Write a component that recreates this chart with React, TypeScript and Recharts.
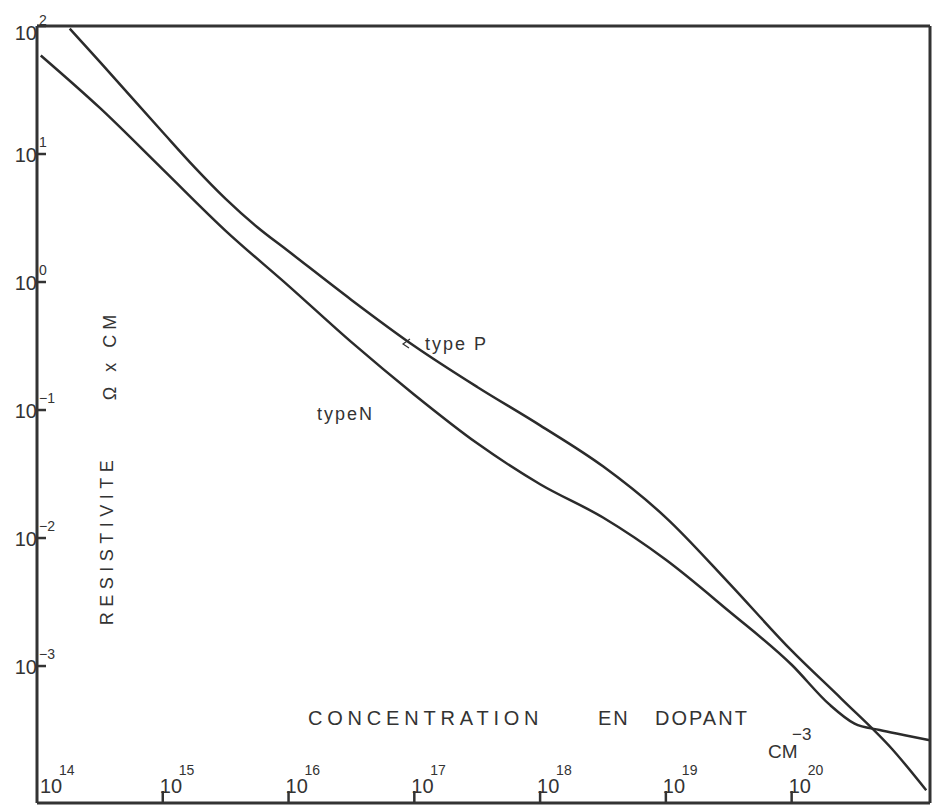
import { LineChart, Line, XAxis, YAxis } from 'recharts';

// exponents of the axis ticks (log10)
const xTicks = [14, 15, 16, 17, 18, 19, 20];
const yTicks = [2, 1, 0, -1, -2, -3];

// log10 of dopant concentration (cm^-3) / log10 of resistivity (ohm x cm)
const typePConc = [14.26, 14.5, 15.0, 15.25, 15.5, 15.75, 16.0, 16.5, 17.0, 17.5, 18.0, 18.5, 19.0, 19.5, 20.0, 20.4, 20.8, 21.07];
const typePRho = [1.98, 1.72, 1.17, 0.9, 0.65, 0.43, 0.24, -0.14, -0.5, -0.82, -1.12, -1.44, -1.84, -2.35, -2.88, -3.26, -3.65, -3.97];

const typeNConc = [14.03, 14.5, 15.0, 15.5, 16.0, 16.5, 17.0, 17.5, 18.0, 18.5, 19.0, 19.5, 20.0, 20.3, 20.5, 20.7, 20.9, 21.1];
const typeNRho = [1.77, 1.36, 0.88, 0.4, -0.03, -0.47, -0.88, -1.26, -1.58, -1.84, -2.17, -2.57, -2.99, -3.3, -3.45, -3.5, -3.54, -3.58];

const typeP = typePConc.map((c, i) => ({ c, r: typePRho[i] }));
const typeN = typeNConc.map((c, i) => ({ c, r: typeNRho[i] }));

const ink = '#333';
const font = '"Liberation Sans", Arial, sans-serif';

const sup = (v: number) => (v < 0 ? '\u2212' + Math.abs(v) : String(v));

const XTick = (props: any) => {
  const { x, y, payload } = props;
  const v = payload.value;
  const dx = v === 14 ? 3 : -3;
  return (
    <g>
      {v !== 14 && <line x1={x} y1={y} x2={x} y2={y - 12} stroke={ink} strokeWidth={2.5} />}
      <text x={x + dx} y={y - 10} fontSize={20} fill={ink} fontFamily={font}>10</text>
      <text x={x + dx + 19} y={y - 28} fontSize={14} fill={ink} fontFamily={font}>{sup(v)}</text>
    </g>
  );
};

const YTick = (props: any) => {
  const { x, y, payload } = props;
  const v = payload.value;
  const top = v === 2 ? 6 : 0;
  return (
    <g>
      <line x1={x} y1={y} x2={x + 9} y2={y} stroke={ink} strokeWidth={2.5} />
      <text x={x} y={y + 8 + top} fontSize={20} fill={ink} fontFamily={font} textAnchor="end">10</text>
      <text x={x + 2} y={y - 7 + top} fontSize={14} fill={ink} fontFamily={font}>{sup(v)}</text>
    </g>
  );
};

export default function App() {
  return (
    <div style={{ position: 'absolute', left: 0, top: 0, width: 937, height: 808, background: '#fff' }}>
      <LineChart width={937} height={808} margin={{ top: 25, right: 6, bottom: 4, left: 36 }}>
        <XAxis
          xAxisId="b"
          type="number"
          dataKey="c"
          domain={[14, 21.1]}
          allowDataOverflow
          ticks={xTicks}
          interval={0}
          height={1}
          tickSize={0}
          tickMargin={0}
          tickLine={false}
          tick={<XTick />}
          axisLine={{ stroke: ink, strokeWidth: 3 }}
        />
        <XAxis xAxisId="t" orientation="top" type="number" dataKey="c" domain={[14, 21.1]} allowDataOverflow height={1} tick={false} tickLine={false} axisLine={{ stroke: ink, strokeWidth: 3 }} />
        <YAxis
          yAxisId="l"
          type="number"
          dataKey="r"
          domain={[-4.07, 2]}
          allowDataOverflow
          ticks={yTicks}
          interval={0}
          width={1}
          tickSize={0}
          tickMargin={0}
          tickLine={false}
          tick={<YTick />}
          axisLine={{ stroke: ink, strokeWidth: 3 }}
        />
        <YAxis yAxisId="r" orientation="right" type="number" dataKey="r" domain={[-4.07, 2]} allowDataOverflow width={1} tick={false} tickLine={false} axisLine={{ stroke: ink, strokeWidth: 3 }} />
        <Line xAxisId="b" yAxisId="l" data={typeP} dataKey="r" type="monotone" stroke="#2b2b2b" strokeWidth={2.5} dot={false} isAnimationActive={false} />
        <Line xAxisId="b" yAxisId="l" data={typeN} dataKey="r" type="monotone" stroke="#2b2b2b" strokeWidth={2.5} dot={false} isAnimationActive={false} />
      </LineChart>
      <svg width={937} height={808} style={{ position: 'absolute', left: 0, top: 0, pointerEvents: 'none' }} fontFamily={font} fill={ink}>
        <text x={0} y={0} fontSize={18} letterSpacing={5.5} textAnchor="middle" transform="translate(113,540) rotate(-90)">RESISTIVITE</text>
        <text x={0} y={0} fontSize={18} letterSpacing={5} textAnchor="middle" transform="translate(116,355) rotate(-90)">{'\u03a9  x  CM'}</text>
        <text x={308} y={725} fontSize={20} letterSpacing={4.8}>CONCENTRATION</text>
        <text x={598} y={725} fontSize={20} letterSpacing={2}>EN</text>
        <text x={655} y={725} fontSize={20} letterSpacing={2}>DOPANT</text>
        <text x={768} y={758} fontSize={19}>CM</text>
        <text x={792} y={740} fontSize={17}>{'\u22123'}</text>
        <text x={425} y={350} fontSize={18} letterSpacing={2}>type P</text>
        <text x={317} y={420} fontSize={18} letterSpacing={2}>typeN</text>
        <path d="M410 339 L403 344 L409 348" fill="none" stroke={ink} strokeWidth={1.2} />
      </svg>
    </div>
  );
}
